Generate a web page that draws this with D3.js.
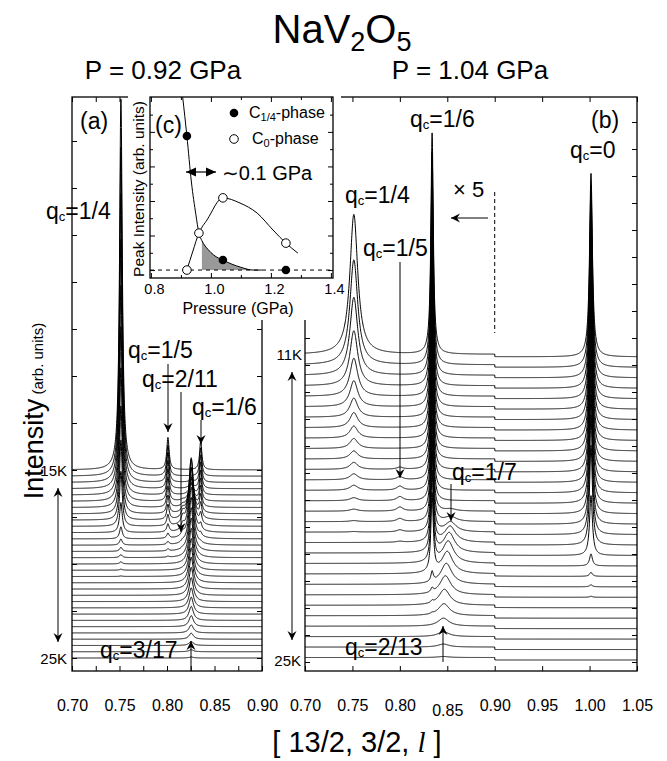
<!DOCTYPE html>
<html>
<head>
<meta charset="utf-8">
<script src="https://cdn.jsdelivr.net/npm/d3@7"></script>
<style>
  body { margin: 0; background: #fff; }
  text { font-family: "Liberation Sans", Arial, Helvetica, sans-serif; fill: #000; }
</style>
</head>
<body>
<svg id="fig" width="667" height="761"></svg>
<script>
// ---------- data ----------

// panel (a), P = 0.92 GPa : 31 scans, index 0 = 15 K (top) ... 30 = 25 K (bottom)
// peak heights (arb. units), one value per scan
const aPeakPos   = [0.7515, 0.801, 0.8165, 0.8255, 0.8355];   // qc = 1/4, 1/5, 2/11, 3/17, 1/6
const aPeakWidth = [0.0017, 0.0015, 0.002, 0.0028, 0.0014];
const aQ14  = [372, 330, 290, 250, 210, 175, 140, 108, 80, 55, 30, 12, 6, 4, 3, 2, 1, 0.5, 0, 0, 0, 0, 0, 0, 0, 0, 0, 0, 0, 0, 0];
const aQ15  = [32, 31, 30, 28, 26, 24, 21, 18, 15, 11, 8, 5, 3, 2, 1, 0, 0, 0, 0, 0, 0, 0, 0, 0, 0, 0, 0, 0, 0, 0, 0];
const aQ211 = [0, 0, 0, 0, 0, 1, 2, 4, 6, 7, 6, 4, 2, 1, 0, 0, 0, 0, 0, 0, 0, 0, 0, 0, 0, 0, 0, 0, 0, 0, 0];
const aQ317 = [0, 0, 2, 5, 10, 18, 30, 45, 60, 68, 65, 62, 58, 54, 50, 46, 42, 38, 35, 32, 28, 24, 20, 17, 14, 11, 8, 6, 4, 2, 1];
const aQ16  = [29, 28, 27, 26, 24, 22, 20, 17, 14, 10, 6, 3, 1, 0, 0, 0, 0, 0, 0, 0, 0, 0, 0, 0, 0, 0, 0, 0, 0, 0, 0];
const aTempLabels = ["15K", "25K"];

// panel (b), P = 1.04 GPa : 30 scans, index 0 = 11 K (top) ... 29 = 25 K (bottom)
const bPeakPos   = [0.7515, 0.800, 0.834, 1.0015];            // qc = 1/4, 1/5, 1/6, 0
const bPeakWidth = [0.005, 0.004, 0.0015, 0.0018];
const bQ14 = [140, 105, 78, 55, 38, 26, 19, 15, 12, 10, 8, 7, 6, 5, 3, 2, 1, 0.5, 0, 0, 0, 0, 0, 0, 0, 0, 0, 0, 0, 0];
const bQ15 = [0, 0, 0, 0, 0, 0, 0, 0, 0, 0, 0, 2, 3, 4, 4, 4, 3, 2, 1, 0, 0, 0, 0, 0, 0, 0, 0, 0, 0, 0];
const bQ16 = [221, 212, 205, 198, 192, 186, 180, 174, 168, 162, 156, 150, 144, 138, 132, 126, 120, 112, 105, 100, 90, 78, 10, 4, 2, 1, 0, 0, 0, 0];
const bQ0  = [184, 182, 180, 178, 176, 174, 172, 170, 168, 165, 162, 158, 154, 150, 145, 138, 130, 120, 100, 60, 12, 4, 2, 1, 0, 0, 0, 0, 0, 0];
// broad peak qc = 1/7 moving to qc = 2/13 on warming
const bQ17    = [0, 0, 0, 0, 0, 0, 0, 0, 0, 0, 0, 0, 0, 0, 0, 2, 5, 10, 16, 20, 22, 22, 21, 19, 16, 12, 8, 5, 3, 1];
const bQ17Pos = [0.8535, 0.8535, 0.8535, 0.8535, 0.8535, 0.8535, 0.8535, 0.8535, 0.8535, 0.8535,
                 0.8535, 0.8535, 0.8535, 0.8535, 0.8535, 0.8535, 0.8535, 0.8535, 0.853, 0.852,
                 0.851, 0.850, 0.849, 0.848, 0.847, 0.8465, 0.846, 0.846, 0.846, 0.846];
const bQ17Width = 0.007;
const bStepX5 = 2.5;      // background jump where the x5 part ends (l = 0.90)
const bTempLabels = ["11K", "25K"];

// panel (c): peak intensity vs pressure
const c14P = [0.92, 1.04, 1.25];
const c14I = [3.88, 0.29, 0];
const c0P  = [0.92, 0.96, 1.04, 1.25];
const c0I  = [0, 1.07, 2.09, 0.78];
const fit14P = [0.906, 0.92, 0.935, 0.95, 0.96, 0.97, 0.99, 1.01, 1.04, 1.07, 1.10, 1.14, 1.17];
const fit14I = [5.0, 3.88, 2.55, 1.6, 1.07, 0.85, 0.6, 0.43, 0.29, 0.17, 0.08, 0.0, 0.0];
const fit0P  = [0.92, 0.94, 0.96, 0.987, 1.04, 1.097, 1.154, 1.207, 1.25, 1.29];
const fit0I  = [0, 0.55, 1.07, 1.45, 2.09, 1.94, 1.65, 1.16, 0.78, 0.49];
const shadeP = [0.97, 1.14];

const ticksA = [0.70, 0.75, 0.80, 0.85, 0.90];
const ticksB = [0.70, 0.75, 0.80, 0.85, 0.90, 0.95, 1.00, 1.05];
const ticksC = [0.8, 1.0, 1.2, 1.4];

// ---------- scales ----------
const svg = d3.select("#fig");
const xA = d3.scaleLinear().domain([0.70, 0.90]).range([72, 262]);
const xB = d3.scaleLinear().domain([0.70, 1.05]).range([305, 637]);
const yMain = d3.scaleLinear().domain([0, 574]).range([671, 97]);
const xI = d3.scaleLinear().domain([0.797, 1.407]).range([150, 333]);
const yI = d3.scaleLinear().domain([-0.23, 5.01]).range([278, 97]);

const aBase0 = 13, aStep = 6.27;
const bBase0 = 11, bStep = 10.45;

// markers
const defs = svg.append("defs");
defs.append("marker").attr("id", "stealth")
    .attr("viewBox", "-10 -5 11 10").attr("refX", 0).attr("refY", 0)
    .attr("markerWidth", 11).attr("markerHeight", 10)
    .attr("markerUnits", "userSpaceOnUse").attr("orient", "auto-start-reverse")
  .append("path").attr("d", "M0,0 L-9,-4.5 L-6,0 L-9,4.5 Z").attr("fill", "#000");
defs.append("marker").attr("id", "tri")
    .attr("viewBox", "-10 -5 11 10").attr("refX", 0).attr("refY", 0)
    .attr("markerWidth", 11).attr("markerHeight", 10)
    .attr("markerUnits", "userSpaceOnUse").attr("orient", "auto-start-reverse")
  .append("path").attr("d", "M0,0 L-10,-4.5 L-10,4.5 Z").attr("fill", "#000");

const lor = (l, p, g) => 1 / (1 + ((l - p) / g) ** 2);

function frame(x, id, xTicks, xMinor, yTicks) {
    const [x0, x1] = x.range();
    const [yb, yt] = yMain.range();
    const g = svg.append("g");
    defs.append("clipPath").attr("id", id)
      .append("rect").attr("x", x0).attr("y", yt).attr("width", x1 - x0).attr("height", yb - yt);

    g.append("g").attr("transform", `translate(0,${yb})`)
        .call(d3.axisBottom(x).tickValues(xMinor).tickSize(-5).tickFormat(""));
    g.append("g").attr("transform", `translate(0,${yt})`)
        .call(d3.axisTop(x).tickValues(xMinor).tickSize(-5).tickFormat(""));
    g.append("g").attr("transform", `translate(${x0},0)`)
        .call(d3.axisLeft(yMain).tickValues(yTicks).tickSize(-5).tickFormat(""));
    g.append("g").attr("transform", `translate(${x1},0)`)
        .call(d3.axisRight(yMain).tickValues(yTicks).tickSize(-5).tickFormat(""));
    const lab = g.append("g").attr("transform", `translate(0,${yb})`)
        .call(d3.axisBottom(x).tickValues(xTicks).tickSize(0).tickPadding(29).tickFormat(d3.format(".2f")));
    lab.selectAll("text").attr("font-size", 16).attr("font-family", null);
    g.selectAll(".domain").remove();
    g.selectAll(".tick line").attr("stroke", "#000");
    g.append("rect").attr("x", x0).attr("y", yt).attr("width", x1 - x0).attr("height", yb - yt)
        .attr("fill", "none").attr("stroke", "#000").attr("stroke-width", 1.3);
    return lab;
}

// ---------- panel (a) ----------
frame(xA, "clipA", ticksA, d3.range(0.70, 0.9001, 0.025), d3.range(13, 574, 47));
const gridA = d3.range(0.70, 0.90001, 0.0002);
const aHeights = [aQ14, aQ15, aQ211, aQ317, aQ16];
const lineA = d3.line().x(d => xA(d[0])).y(d => yMain(d[1]));
const gA = svg.append("g").attr("clip-path", "url(#clipA)");
aQ14.forEach((_, i) => {
    const base = aBase0 + aStep * (aQ14.length - 1 - i);
    const pts = gridA.map(l => [l, base + aHeights.reduce((s, h, k) => s + h[i] * lor(l, aPeakPos[k], aPeakWidth[k]), 0)]);
    gA.append("path").attr("d", lineA(pts)).attr("fill", "none").attr("stroke", "#000").attr("stroke-width", 1);
});

// ---------- panel (b) ----------
const labB = frame(xB, "clipB", ticksB, ticksB, d3.range(9, 574, 27));
labB.selectAll(".tick text").filter(d => Math.abs(d - 0.85) < 1e-6).attr("dy", "0.97em");
const gridB = d3.range(0.70, 1.05001, 0.0002);
const bHeights = [bQ14, bQ15, bQ16, bQ0];
const lineB = d3.line().x(d => xB(d[0])).y(d => yMain(d[1]));
const gB = svg.append("g").attr("clip-path", "url(#clipB)");
bQ16.forEach((_, i) => {
    const base = bBase0 + bStep * (bQ16.length - 1 - i);
    const pts = gridB.map(l => {
        let v = base + (l < 0.90 ? bStepX5 : 0);
        bHeights.forEach((h, k) => { v += h[i] * lor(l, bPeakPos[k], bPeakWidth[k]); });
        v += bQ17[i] * lor(l, bQ17Pos[i], bQ17Width);
        return [l, v];
    });
    gB.append("path").attr("d", lineB(pts)).attr("fill", "none").attr("stroke", "#000").attr("stroke-width", 1);
});

// ---------- helpers for annotations ----------
function arrow(x1, y1, x2, y2, both) {
    const l = svg.append("line").attr("x1", x1).attr("y1", y1).attr("x2", x2).attr("y2", y2)
        .attr("stroke", "#000").attr("stroke-width", 1).attr("marker-end", "url(#stealth)");
    if (both) l.attr("marker-start", "url(#stealth)");
}
function qLabel(x, y, frac) {
    const t = svg.append("text").attr("x", x).attr("y", y).attr("font-size", 23);
    t.append("tspan").text("q");
    t.append("tspan").attr("font-size", 13).attr("dy", 2).text("c");
    t.append("tspan").attr("dy", -2).text("=" + frac);
}
function txt(x, y, s, size, anchor) {
    return svg.append("text").attr("x", x).attr("y", y).attr("font-size", size)
        .attr("text-anchor", anchor || "start").text(s);
}

// temperature labels + arrows
const aTopY = yMain(aBase0 + aStep * (aQ14.length - 1)), aBotY = yMain(aBase0);
const bTopY = yMain(bBase0 + bStep * (bQ16.length - 1) + bStepX5), bBotY = yMain(bBase0 + bStepX5);
txt(67, aTopY + 6, aTempLabels[0], 15, "end");
txt(67, aBotY + 6, aTempLabels[1], 15, "end");
arrow(58, 642, 58, 488, true);
txt(302, bTopY + 6, bTempLabels[0], 15, "end");
txt(301, bBotY + 8, bTempLabels[1], 15, "end");
arrow(292, 640, 292, 372, true);

// panel (a) annotations
txt(80, 129, "(a)", 23);
qLabel(46, 219, "1/4");
qLabel(128, 358, "1/5");
arrow(168, 364, 168, 432);
qLabel(142, 387, "2/11");
arrow(181, 392, 181, 532);
qLabel(192, 415, "1/6");
arrow(201, 420, 201, 444);
qLabel(100, 658, "3/17");
arrow(191, 671, 191, 641);

// panel (b) annotations
txt(591, 128, "(b)", 23);
qLabel(570, 158, "0");
qLabel(410, 127, "1/6");
qLabel(345, 203, "1/4");
qLabel(363, 256, "1/5");
arrow(400, 262, 400, 478);
txt(453, 197, "\u00d7 5", 22);
arrow(488, 218, 451, 218);
svg.append("line").attr("x1", xB(0.90)).attr("x2", xB(0.90)).attr("y1", 192).attr("y2", 333)
    .attr("stroke", "#000").attr("stroke-dasharray", "4,3");
qLabel(452, 480, "1/7");
arrow(451, 484, 451, 521);
qLabel(345, 655, "2/13");
arrow(443, 662, 443, 626);

// ---------- inset (c) ----------
svg.append("rect").attr("x", 128).attr("y", 86).attr("width", 213).attr("height", 234).attr("fill", "#fff");
const gI = svg.append("g");
const [ib, it] = yI.range();
const [il, ir] = xI.range();
const axI = [
    [d3.axisBottom(xI).tickValues(ticksC), `translate(0,${ib})`, -5],
    [d3.axisBottom(xI).tickValues([0.9, 1.1, 1.3]), `translate(0,${ib})`, -3],
    [d3.axisTop(xI).tickValues(ticksC), `translate(0,${it})`, -5],
    [d3.axisTop(xI).tickValues([0.9, 1.1, 1.3]), `translate(0,${it})`, -3],
    [d3.axisLeft(yI).tickValues([0, 1, 2, 3, 4]), `translate(${il},0)`, -5],
    [d3.axisLeft(yI).tickValues([0.5, 1.5, 2.5, 3.5, 4.5]), `translate(${il},0)`, -3],
    [d3.axisRight(yI).tickValues([0, 1, 2, 3, 4]), `translate(${ir},0)`, -5],
    [d3.axisRight(yI).tickValues([0.5, 1.5, 2.5, 3.5, 4.5]), `translate(${ir},0)`, -3]
];
axI.forEach(([ax, tr, s]) => gI.append("g").attr("transform", tr).call(ax.tickSize(s).tickFormat("")));
const labI = gI.append("g").attr("transform", `translate(3,${ib})`)
    .call(d3.axisBottom(xI).tickValues(ticksC).tickSize(0).tickPadding(6).tickFormat(d3.format(".1f")));
labI.selectAll("text").attr("font-size", 14.5).attr("font-family", null);
gI.selectAll(".domain").remove();
gI.selectAll(".tick line").attr("stroke", "#000");

// shaded region under the C1/4 curve
const fit14 = fit14P.map((p, k) => [p, fit14I[k]]);
const fit0 = fit0P.map((p, k) => [p, fit0I[k]]);
const areaI = d3.area().x(d => xI(d[0])).y0(yI(0)).y1(d => yI(d[1])).curve(d3.curveMonotoneX);
gI.append("path").attr("d", areaI(fit14.filter(d => d[0] >= shadeP[0] && d[0] <= shadeP[1])))
    .attr("fill", "#999");
gI.append("line").attr("x1", il).attr("x2", ir).attr("y1", yI(0)).attr("y2", yI(0))
    .attr("stroke", "#000").attr("stroke-dasharray", "4,4");
const lineI = d3.line().x(d => xI(d[0])).y(d => yI(d[1])).curve(d3.curveMonotoneX);
gI.append("path").attr("d", lineI(fit14)).attr("fill", "none").attr("stroke", "#000").attr("stroke-width", 1);
gI.append("path").attr("d", lineI(fit0)).attr("fill", "none").attr("stroke", "#000").attr("stroke-width", 1);
gI.selectAll(".p14").data(c14P).enter().append("circle")
    .attr("cx", d => xI(d)).attr("cy", (d, k) => yI(c14I[k])).attr("r", 4.3).attr("fill", "#000");
gI.selectAll(".p0").data(c0P).enter().append("circle")
    .attr("cx", d => xI(d)).attr("cy", (d, k) => yI(c0I[k])).attr("r", 4.3)
    .attr("fill", "#fff").attr("stroke", "#000").attr("stroke-width", 1);
gI.append("rect").attr("x", il).attr("y", it).attr("width", ir - il).attr("height", ib - it)
    .attr("fill", "none").attr("stroke", "#000").attr("stroke-width", 1.3);

txt(155, 133, "(c)", 23);
gI.append("circle").attr("cx", 234).attr("cy", 113).attr("r", 4.3).attr("fill", "#000");
gI.append("circle").attr("cx", 234).attr("cy", 139).attr("r", 4.3).attr("fill", "#fff").attr("stroke", "#000");
const lg1 = svg.append("text").attr("x", 249).attr("y", 118).attr("font-size", 16);
lg1.append("tspan").text("C");
lg1.append("tspan").attr("font-size", 11).attr("dy", 3).text("1/4");
lg1.append("tspan").attr("dy", -3).text("-phase");
const lg2 = svg.append("text").attr("x", 252).attr("y", 144).attr("font-size", 16);
lg2.append("tspan").text("C");
lg2.append("tspan").attr("font-size", 11).attr("dy", 3).text("0");
lg2.append("tspan").attr("dy", -3).text("-phase");
svg.append("line").attr("x1", 186).attr("x2", 216).attr("y1", 172).attr("y2", 172)
    .attr("stroke", "#000").attr("stroke-width", 1.2)
    .attr("marker-start", "url(#tri)").attr("marker-end", "url(#tri)");
const gap = svg.append("text").attr("x", 222).attr("y", 180).attr("font-size", 20);
gap.append("tspan").attr("font-family", "'DejaVu Sans', sans-serif").text("\u223c");
gap.append("tspan").text("0.1 GPa");
txt(238, 314, "Pressure (GPa)", 16, "middle");
txt(0, 0, "Peak Intensity (arb. units)", 15.5, "middle")
    .attr("transform", "translate(144,189) rotate(-90)");

// ---------- titles ----------
const title = svg.append("text").attr("x", 342).attr("y", 43).attr("font-size", 40).attr("text-anchor", "middle");
title.append("tspan").text("NaV");
title.append("tspan").attr("font-size", 27).attr("dy", 8).text("2");
title.append("tspan").attr("dy", -8).text("O");
title.append("tspan").attr("font-size", 27).attr("dy", 8).text("5");
txt(163, 79, "P = 0.92 GPa", 26, "middle");
txt(470, 79, "P = 1.04 GPa", 26, "middle");

const yl = svg.append("text").attr("transform", "translate(43,411) rotate(-90)").attr("text-anchor", "middle");
yl.append("tspan").attr("font-size", 27).text("Intensity");
yl.append("tspan").attr("font-size", 15).text(" (arb. units)");

const xl = svg.append("text").attr("x", 357).attr("y", 752).attr("font-size", 29).attr("text-anchor", "middle");
xl.append("tspan").text("[ 13/2, 3/2, ");
xl.append("tspan").attr("font-family", "'Liberation Serif', serif").attr("font-style", "italic").text("l");
xl.append("tspan").text(" ]");
</script>
</body>
</html>
